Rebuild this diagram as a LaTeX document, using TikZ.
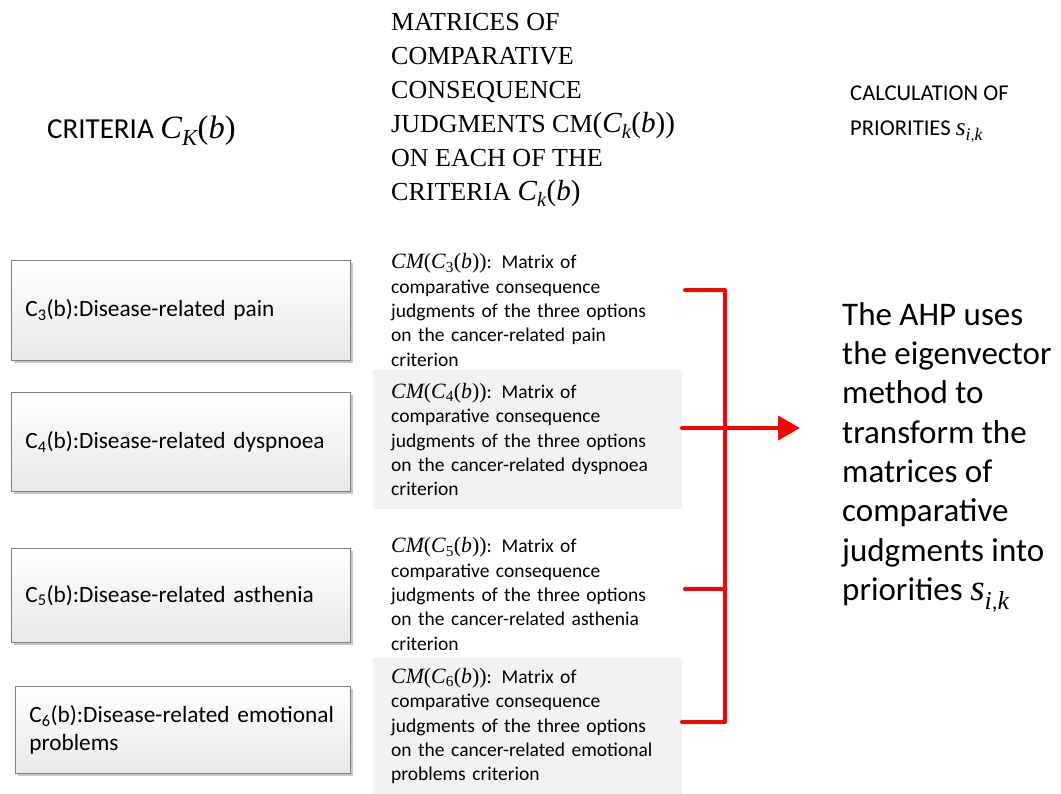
\documentclass[tikz,border=0pt]{standalone}
\usepackage{fontspec}
\setmainfont{Carlito}
\newfontfamily\headserif{Liberation Serif}
\newfontfamily\symserif[Scale=1.12]{Liberation Serif}
\usetikzlibrary{shadows,arrows.meta}
\definecolor{panelgray}{HTML}{F2F2F2}
\definecolor{boxedge}{HTML}{7F7F7F}
% italic serif symbols with upright serif punctuation
\newcommand{\mvar}[1]{{\symserif\itshape #1}}
\newcommand{\mup}[1]{{\symserif #1}}
\begin{document}
\begin{tikzpicture}[x=1pt,y=-1pt,
  critbox/.style={draw=boxedge, line width=0.8pt, top color=white, bottom color=black!9,
    drop shadow={shadow xshift=3pt, shadow yshift=-3pt, fill=black!22, opacity=1},
    anchor=north west, align=left, text width=311pt, inner xsep=14pt, inner ysep=0pt,
    font=\fontsize{23.3}{28}\selectfont},
  cmtext/.style={anchor=west, align=left, text width=273pt, inner xsep=18pt, inner ysep=0pt,
    font=\fontsize{19.5}{24.3}\selectfont},
  cmpanel/.style={cmtext, fill=panelgray},
  heading/.style={anchor=west, align=left, inner sep=0pt},
  redline/.style={draw=red, line width=4pt, line cap=round, line join=round}
]
\useasboundingbox (0,0) rectangle (1061,794);

% column headings
\node[heading, font=\fontsize{29}{34}\selectfont] (hcrit) at (47,131)
  {CRITERIA \mvar{C}\textsubscript{\mvar{K}}\mup{(}\mvar{b}\mup{)}};
\node[heading, font=\headserif\fontsize{26}{34}\selectfont] (hmat) at (391,110)
  {MATRICES OF\\COMPARATIVE\\CONSEQUENCE\\JUDGMENTS CM\mup{(}\mvar{C}\textsubscript{\mvar{k}}\mup{(}\mvar{b}\mup{))}\\ON EACH OF THE\\CRITERIA \mvar{C}\textsubscript{\mvar{k}}\mup{(}\mvar{b}\mup{)}};
\node[heading, font=\fontsize{22.6}{35}\selectfont] (hprio) at (850,114)
  {CALCULATION OF\\PRIORITIES \mvar{s}\textsubscript{\mvar{i},\mvar{k}}};

% criteria boxes
\node[critbox, minimum height=100pt] (c3) at (11,260) {C\textsubscript{3}(b):Disease-related pain};
\node[critbox, minimum height=99pt] (c4) at (11,392) {C\textsubscript{4}(b):Disease-related dyspnoea};
\node[critbox, minimum height=94pt] (c5) at (11,548) {C\textsubscript{5}(b):Disease-related asthenia};
\node[critbox, minimum height=87pt, text width=307pt] (c6) at (15,686)
  {C\textsubscript{6}(b):Disease-related emotional\\problems};

% comparison matrices
\node[cmtext] (m3) at (373,310)
  {\mvar{CM}\mup{(}\mvar{C}\textsubscript{\mup{3}}\mup{(}\mvar{b}\mup{))}: Matrix of\\comparative consequence\\judgments of the three options\\on the cancer-related pain\\criterion};
\node[cmpanel, minimum height=139pt] (m4) at (373,439.5)
  {\mvar{CM}\mup{(}\mvar{C}\textsubscript{\mup{4}}\mup{(}\mvar{b}\mup{))}: Matrix of\\comparative consequence\\judgments of the three options\\on the cancer-related dyspnoea\\criterion};
\node[cmtext] (m5) at (373,594)
  {\mvar{CM}\mup{(}\mvar{C}\textsubscript{\mup{5}}\mup{(}\mvar{b}\mup{))}: Matrix of\\comparative consequence\\judgments of the three options\\on the cancer-related asthenia\\criterion};
\node[cmpanel, minimum height=136pt] (m6) at (373,726)
  {\mvar{CM}\mup{(}\mvar{C}\textsubscript{\mup{6}}\mup{(}\mvar{b}\mup{))}: Matrix of\\comparative consequence\\judgments of the three options\\on the cancer-related emotional\\problems criterion};

% result
\node[heading, font=\fontsize{33}{39.3}\selectfont] (ahp) at (842,457.5)
  {The AHP uses\\the eigenvector\\method to\\transform the\\matrices of\\comparative\\judgments into\\priorities \mvar{s}\textsubscript{\mvar{i},\mvar{k}}};

% bracket gathering the matrices
\coordinate (t3) at (685,290);
\coordinate (t4) at (682,428);
\coordinate (t5) at (685,589);
\coordinate (t6) at (682,722);
\coordinate (spine) at (725,0);
\coordinate (tip) at (800,428);
\draw[redline] (t3) -- (t3 -| spine) -- (t6 -| spine) -- (t6);
\draw[redline] (t5) -- (t5 -| spine);
\draw[redline, line cap=butt, -{Triangle[length=22pt,width=24pt]}] (t4) -- (tip);
\fill[red] (t4) circle (2pt);
\end{tikzpicture}
\end{document}
